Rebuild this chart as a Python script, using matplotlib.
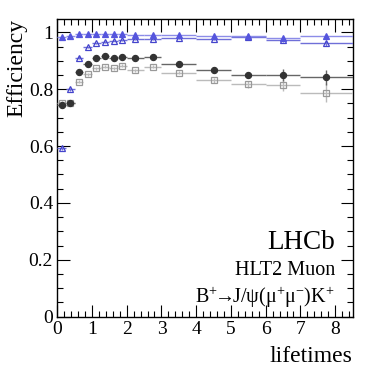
import matplotlib
matplotlib.use('Agg')
import matplotlib.pyplot as plt
import matplotlib.ticker as mticker
import numpy as np

# bin edges in lifetimes
bin_edges = [0, 0.25, 0.5, 0.75, 1.0, 1.25, 1.5, 1.75, 2.0, 2.5, 3.0, 4.0, 5.0, 6.0, 7.0, 8.5]

# efficiencies
eff_tri_filled = [0.982, 0.987, 0.993, 0.994, 0.994, 0.993, 0.994, 0.994, 0.990, 0.990, 0.990, 0.988, 0.986, 0.981, 0.986]
err_tri_filled = [0.003, 0.002, 0.002, 0.002, 0.002, 0.002, 0.002, 0.002, 0.002, 0.002, 0.002, 0.003, 0.004, 0.006, 0.008]
eff_tri_open = [0.592, 0.799, 0.911, 0.947, 0.961, 0.967, 0.971, 0.974, 0.976, 0.976, 0.979, 0.976, 0.983, 0.973, 0.961]
err_tri_open = [0.006, 0.005, 0.004, 0.003, 0.003, 0.003, 0.003, 0.003, 0.003, 0.003, 0.003, 0.004, 0.005, 0.007, 0.010]
eff_circle = [0.744, 0.750, 0.859, 0.889, 0.911, 0.916, 0.911, 0.913, 0.909, 0.912, 0.889, 0.867, 0.850, 0.850, 0.842]
err_circle = [0.006, 0.005, 0.005, 0.005, 0.005, 0.005, 0.005, 0.005, 0.005, 0.005, 0.006, 0.008, 0.012, 0.020, 0.027]
eff_square = [0.752, 0.752, 0.826, 0.853, 0.873, 0.879, 0.873, 0.883, 0.867, 0.879, 0.858, 0.832, 0.817, 0.815, 0.788]
err_square = [0.006, 0.005, 0.005, 0.005, 0.005, 0.005, 0.005, 0.005, 0.005, 0.005, 0.006, 0.009, 0.013, 0.020, 0.033]

edges = np.array(bin_edges)
centres = 0.5 * (edges[1:] + edges[:-1])
half_w = 0.5 * (edges[1:] - edges[:-1])

plt.rcParams.update({
    'font.family': 'Liberation Serif',
    'mathtext.fontset': 'custom',
    'mathtext.rm': 'Liberation Serif',
    'mathtext.it': 'Liberation Serif:italic',
    'axes.linewidth': 1.0,
})

fig = plt.figure(figsize=(3.84, 3.72), dpi=100)
ax = fig.add_axes([0.149, 0.149, 0.769, 0.800])

series = [
    # values, errors, marker, face, edge, line colour
    (eff_square, err_square, 's', 'none', '#999999', '#bbbbbb'),
    (eff_circle, err_circle, 'o', '#333333', '#333333', '#666666'),
    (eff_tri_open, err_tri_open, '^', 'none', '#4444cc', '#6f6fd8'),
    (eff_tri_filled, err_tri_filled, '^', '#5555dd', '#5555dd', '#8c8ce8'),
]
for vals, errs, mk, fc, ec, lc in series:
    ax.errorbar(centres, vals, xerr=half_w, yerr=errs, fmt=mk, ms=4.4,
                mfc=fc, mec=ec, mew=0.9, ecolor=lc, elinewidth=1.0,
                capsize=0, zorder=3)

ax.set_xlim(0, 8.5)
ax.set_ylim(0, 1.047)
ax.xaxis.set_major_locator(mticker.MultipleLocator(1))
ax.xaxis.set_minor_locator(mticker.MultipleLocator(0.2))
ax.yaxis.set_major_locator(mticker.MultipleLocator(0.2))
ax.yaxis.set_minor_locator(mticker.MultipleLocator(0.05))
ax.yaxis.set_major_formatter(mticker.FuncFormatter(lambda v, p: f'{v:g}'))
ax.tick_params(which='both', direction='in', top=True, right=True, labelsize=14, pad=3)
ax.tick_params(which='major', length=9, width=0.8)
ax.tick_params(which='minor', length=4.5, width=0.8)

ax.set_ylabel('Efficiency', fontsize=17, loc='top', labelpad=1)
ax.set_xlabel('lifetimes', fontsize=17, loc='right', labelpad=6)

ax.text(0.94, 0.25, 'LHCb', transform=ax.transAxes, fontsize=19.5, ha='right', va='center')
ax.text(0.94, 0.155, 'HLT2 Muon', transform=ax.transAxes, fontsize=14.5, ha='right', va='center')
ax.text(0.94, 0.065, 'B$^{+}$$\\!$→$\\!$J/ψ(μ$^{+}$μ$^{-}$)K$^{+}$', transform=ax.transAxes,
        fontsize=14.5, ha='right', va='center')

fig.savefig('out.png', dpi=100)
